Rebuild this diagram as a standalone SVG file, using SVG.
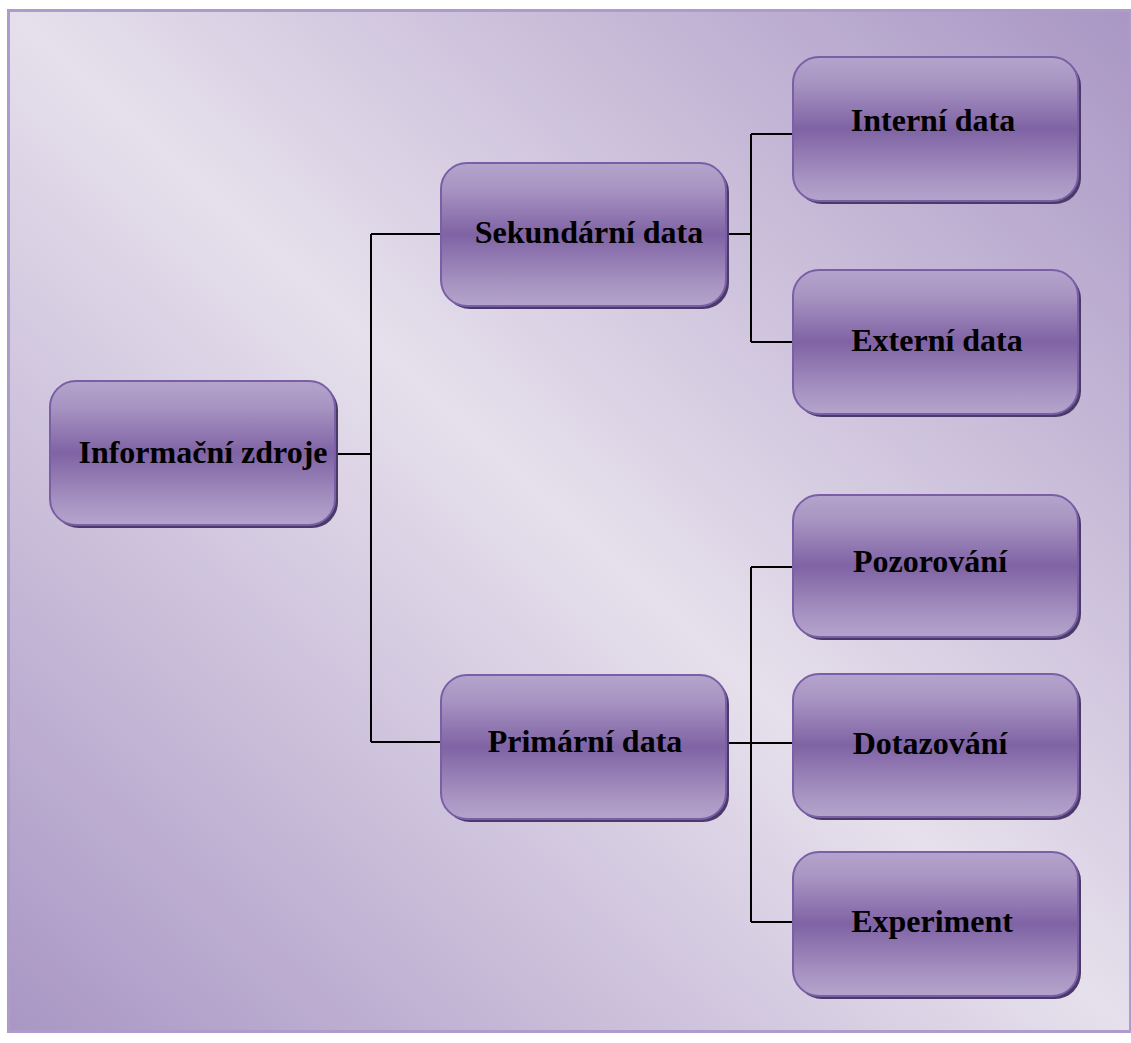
<svg xmlns="http://www.w3.org/2000/svg" width="1131" height="1043" viewBox="0 0 1131 1043">
  <defs>
    <linearGradient id="bg" x1="1" y1="0" x2="0" y2="1">
      <stop offset="0" stop-color="#a996c4"/>
      <stop offset="0.5" stop-color="#e6e0ec"/>
      <stop offset="1" stop-color="#a996c4"/>
    </linearGradient>
    <linearGradient id="box" x1="0" y1="0" x2="0" y2="1">
      <stop offset="0" stop-color="#b4a4cc"/>
      <stop offset="0.18" stop-color="#a894c2"/>
      <stop offset="0.5" stop-color="#7f63a4"/>
      <stop offset="0.85" stop-color="#a894c2"/>
      <stop offset="1" stop-color="#b4a4cc"/>
    </linearGradient>
  </defs>
  <style>
    .shadow { fill: #4b3a68; }
    .box { fill: url(#box); stroke: #7a5ea6; stroke-width: 2; }
    .label { font-family: "Liberation Serif", "Times New Roman", serif; font-weight: bold; font-size: 32px; fill: #000; text-anchor: middle; }
    .link { fill: none; stroke: #000; stroke-width: 2; }
  </style>

  <!-- background panel -->
  <rect x="8.5" y="10.5" width="1122" height="1021" fill="url(#bg)" stroke="#ad9ccb" stroke-width="3"/>

  <!-- connectors -->
  <g id="connectors">
    <path class="link" d="M335 454 H371 M371 234 V742 M371 234 H441 M371 742 H441"/>
    <path class="link" d="M725 234 H751 M751 134 V342 M751 134 H793 M751 342 H793"/>
    <path class="link" d="M725 743 H751 M751 567 V922 M751 567 H793 M751 743 H793 M751 922 H793"/>
  </g>

  <g id="node-informacni-zdroje">
    <rect class="shadow" x="53" y="384" width="285" height="144" rx="26"/>
    <rect class="box" x="50" y="381" width="285" height="144" rx="26"/>
    <text class="label" x="203" y="463">Informační zdroje</text>
  </g>

  <g id="node-sekundarni-data">
    <rect class="shadow" x="444" y="166" width="285" height="143" rx="26"/>
    <rect class="box" x="441" y="163" width="285" height="143" rx="26"/>
    <text class="label" x="589" y="243">Sekundární data</text>
  </g>

  <g id="node-primarni-data">
    <rect class="shadow" x="444" y="678" width="285" height="144" rx="26"/>
    <rect class="box" x="441" y="675" width="285" height="144" rx="26"/>
    <text class="label" x="585" y="752">Primární data</text>
  </g>

  <g id="node-interni-data">
    <rect class="shadow" x="796" y="60" width="285" height="144" rx="26"/>
    <rect class="box" x="793" y="57" width="285" height="144" rx="26"/>
    <text class="label" x="933" y="131">Interní data</text>
  </g>

  <g id="node-externi-data">
    <rect class="shadow" x="796" y="273" width="285" height="144" rx="26"/>
    <rect class="box" x="793" y="270" width="285" height="144" rx="26"/>
    <text class="label" x="937" y="351">Externí data</text>
  </g>

  <g id="node-pozorovani">
    <rect class="shadow" x="796" y="498" width="285" height="142" rx="26"/>
    <rect class="box" x="793" y="495" width="285" height="142" rx="26"/>
    <text class="label" x="930" y="572">Pozorování</text>
  </g>

  <g id="node-dotazovani">
    <rect class="shadow" x="796" y="677" width="285" height="143" rx="26"/>
    <rect class="box" x="793" y="674" width="285" height="143" rx="26"/>
    <text class="label" x="930" y="754">Dotazování</text>
  </g>

  <g id="node-experiment">
    <rect class="shadow" x="796" y="855" width="285" height="144" rx="26"/>
    <rect class="box" x="793" y="852" width="285" height="144" rx="26"/>
    <text class="label" x="932" y="932">Experiment</text>
  </g>
</svg>
